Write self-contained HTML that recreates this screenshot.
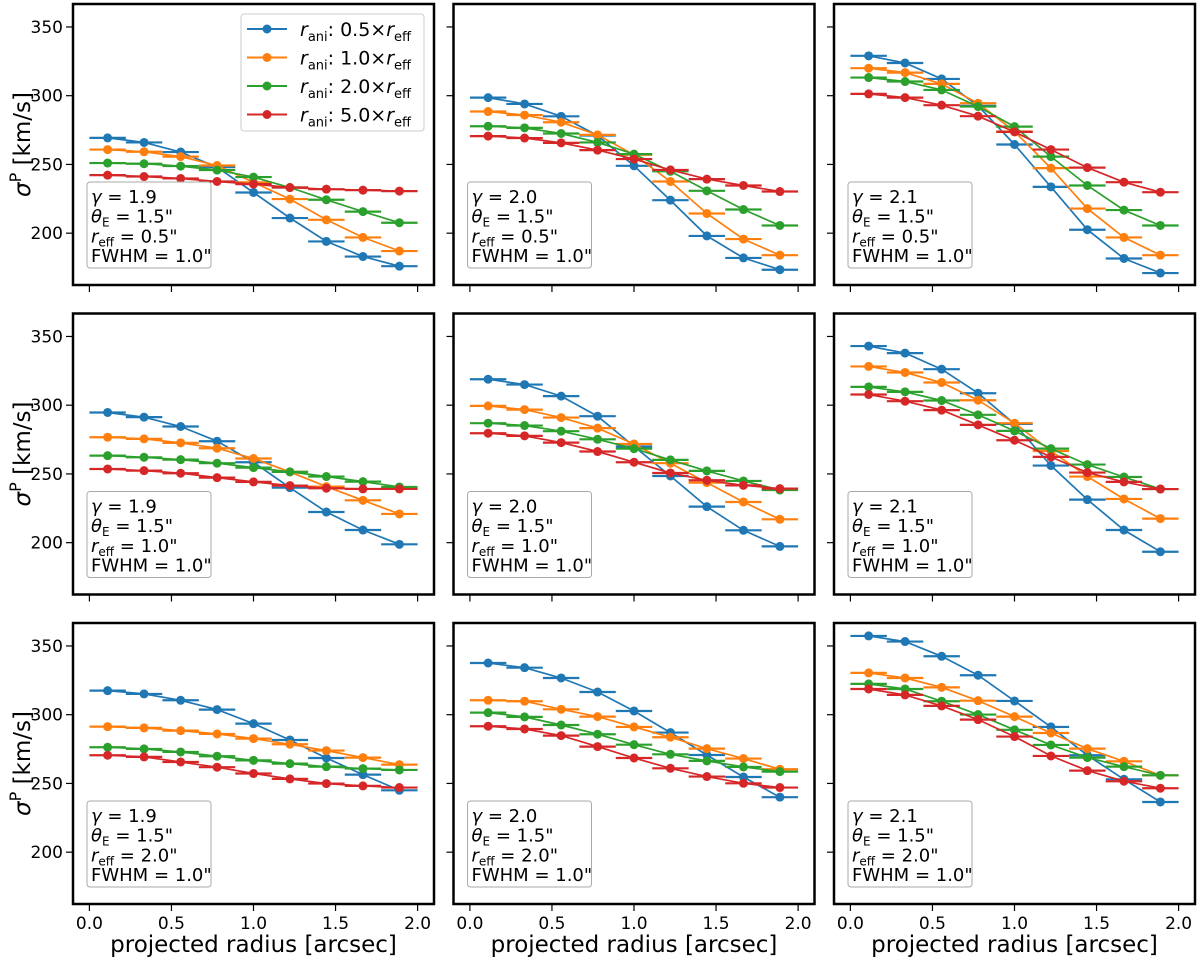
<!DOCTYPE html>
<html><head><meta charset="utf-8">
<style>
html,body{margin:0;padding:0;background:#fff;}
svg{display:block;font-family:"DejaVu Sans","Liberation Sans",sans-serif;}
</style></head>
<body>
<svg id="fig" width="1200" height="965" viewBox="0 0 1200 965" xmlns="http://www.w3.org/2000/svg"></svg>
<script>
const radii = [0.111,0.333,0.556,0.778,1.0,1.222,1.444,1.667,1.889];
const binHalfWidth = 0.111;
const xTicks = [0.0,0.5,1.0,1.5,2.0];
const xTickLabels = ["0.0","0.5","1.0","1.5","2.0"];
const yTicks = [200,250,300,350];
const yTickLabels = ["200","250","300","350"];
const gammaLabels = ["1.9","2.0","2.1"];
const reffLabels = ["0.5","1.0","2.0"];
const seriesNames = ["0.5","1.0","2.0","5.0"];
const seriesColors = ["#1f77b4","#ff7f0e","#2ca02c","#d62728"];
// row 1: r_eff = 0.5
const p11_blue = [269.3,266,259,248,229.6,211,194,183,176];
const p11_orange = [260.8,259.2,255.7,249.2,237,224.8,209.7,196.9,187];
const p11_green = [251,250.5,248.8,245.9,240.8,233.2,224.3,215.7,207.6];
const p11_red = [242.2,241.2,239.8,237.6,235.7,233.2,232,231.3,230.6];
const p12_blue = [298.6,294,285,271,249,224,198,182,173.4];
const p12_orange = [288.5,285.9,280.7,271.5,257,237.6,214.3,195.7,184];
const p12_green = [277.8,276.6,272.5,266,257.5,245,230.8,217.2,205.6];
const p12_red = [270.6,269.2,265.7,260.4,253.9,246,239.3,234.7,230.3];
const p13_blue = [329,323.8,312.2,292.6,264.5,233.7,202.5,181.6,171];
const p13_orange = [320,316.8,308.6,294.5,274,247.3,217.9,196.9,184];
const p13_green = [313.2,310.3,304.2,292.1,277.5,255.7,234.7,216.8,205.6];
const p13_red = [301.3,298.6,293.1,285.1,273.7,260.8,247.7,237.1,229.8];
// row 2: r_eff = 1.0
const p21_blue = [294.7,291.3,284.5,273.8,258.5,240,222.3,209.2,198.8];
const p21_orange = [276.7,275.5,272.6,268.7,261.2,251.5,240.8,230.8,220.9];
const p21_green = [263.3,262.1,260.4,257.8,254.6,251.5,248.1,244.4,240.5];
const p21_red = [253.6,252.4,250.5,247.3,244.2,241.5,239.6,239.1,239.1];
const p22_blue = [318.9,315,306.6,292,270,248.5,226.2,209,197.3];
const p22_orange = [299.5,296.8,291,283.3,271.8,257.8,243.7,229.6,217];
const p22_green = [286.9,285.2,281.1,275.2,268.4,260.2,252.2,244.9,238.3];
const p22_red = [279.6,277.7,272.8,266.3,258.5,250.7,245.4,241.7,239.3];
const p23_blue = [343,337.9,326.2,308.7,286.4,256.1,231.3,209.2,193.4];
const p23_orange = [328.2,323.8,316.5,303.6,286.9,266.7,248.1,231.8,217.5];
const p23_green = [313.3,309.7,303.4,293,281.3,268.4,256.8,247.8,239];
const p23_red = [307.8,302.9,296.4,285.7,274.5,262.4,251,244.2,239];
// row 3: r_eff = 2.0
const p31_blue = [317.5,315.1,310.5,303.7,293.5,281.6,268.5,256.4,245];
const p31_orange = [291.3,290.4,288.4,286,282.6,278.5,273.9,268.8,263.7];
const p31_green = [276.3,275.1,272.9,269.8,266.8,264.4,262.2,260.8,259.8];
const p31_red = [270.5,269.3,265.6,261.8,257.2,253.3,249.9,248.2,247];
const p32_blue = [337.6,334.2,326.7,316.5,302.7,287,270.7,254.7,240];
const p32_orange = [310.5,309.8,303.9,298.6,291.1,283.6,275.3,268.1,260.3];
const p32_green = [301.5,298.4,292.5,285.8,278.2,271.2,266.4,262,258.6];
const p32_red = [291.6,289.6,284.8,276.8,268.5,261,255,250.1,247];
const p33_blue = [357.3,353.2,342.5,328.7,310,291.1,270.5,253,236.5];
const p33_orange = [330.4,326.7,319.9,310.2,298.6,286.7,275.3,266.1,255.9];
const p33_green = [322.4,318.7,309.8,300.1,289,278,268.8,262.2,255.9];
const p33_red = [318.7,314.4,306.4,296.4,284.1,270,259.3,251.6,246.5];

const panels = [
 [[p11_blue,p11_orange,p11_green,p11_red],[p12_blue,p12_orange,p12_green,p12_red],[p13_blue,p13_orange,p13_green,p13_red]],
 [[p21_blue,p21_orange,p21_green,p21_red],[p22_blue,p22_orange,p22_green,p22_red],[p23_blue,p23_orange,p23_green,p23_red]],
 [[p31_blue,p31_orange,p31_green,p31_red],[p32_blue,p32_orange,p32_green,p32_red],[p33_blue,p33_orange,p33_green,p33_red]]
];

const NS = "http://www.w3.org/2000/svg";
const svg = document.getElementById('fig');
const X0 = 73, DX = 380.5, Y0 = 4, DY = 309.5, PW = 361, PH = 281;
const XMIN = -0.1, XMAX = 2.1, YMAX = 366.7, YMIN = 162.3;
function mk(tag, attrs, parent){
  const e = document.createElementNS(NS, tag);
  for (const k in attrs) e.setAttribute(k, attrs[k]);
  (parent||svg).appendChild(e);
  return e;
}
for (let r=0;r<3;r++){
  for (let c=0;c<3;c++){
    const left = X0 + c*DX, top = Y0 + r*DY;
    const sx = v => left + (v - XMIN)/(XMAX - XMIN)*PW;
    const sy = v => top + (YMAX - v)/(YMAX - YMIN)*PH;
    const g = mk('g', {});
    
    
    const clipId = 'clip'+r+c;
    const cp = mk('clipPath', {id:clipId}, g);
    mk('rect', {x:left, y:top, width:PW, height:PH}, cp);
    const data = panels[r][c];
    const sg = mk('g', {'clip-path':'url(#'+clipId+')'}, g);
    for (let s=0;s<4;s++){
      const vals = data[s], col = seriesColors[s];
      const ser = mk('g', {}, sg);
      
      
      let d = '';
      vals.forEach((v,i)=>{ d += (i?'L':'M') + sx(radii[i]).toFixed(1) + ' ' + sy(v).toFixed(1); });
      mk('path', {d:d, fill:'none', stroke:col, 'stroke-width':1.7}, ser);
      vals.forEach((v,i)=>{
        const eb = mk('line', {x1:sx(radii[i]-binHalfWidth), x2:sx(radii[i]+binHalfWidth), y1:sy(v), y2:sy(v), stroke:col, 'stroke-width':2.2}, ser);
        
        
        const pt = mk('circle', {cx:sx(radii[i]), cy:sy(v), r:4.5, fill:col}, ser);
        
        
      });
    }
    mk('rect', {x:left, y:top, width:PW, height:PH, fill:'none', stroke:'#000', 'stroke-width':2.5}, g);
    xTicks.forEach((t,i)=>{
      mk('line', {x1:sx(t), x2:sx(t), y1:top+PH+1, y2:top+PH+7, stroke:'#000', 'stroke-width':1.2}, g);
      if (r===2){
        const tl = mk('text', {x:sx(t), y:top+PH+25, 'font-size':17, 'text-anchor':'middle', fill:'#000'}, g);
        tl.textContent = xTickLabels[i];
        
        
      }
    });
    yTicks.forEach((t,i)=>{
      mk('line', {x1:left-7, x2:left-1, y1:sy(t), y2:sy(t), stroke:'#000', 'stroke-width':1.2}, g);
      if (c===0){
        const tl = mk('text', {x:left-10, y:sy(t)+6, 'font-size':17, 'text-anchor':'end', fill:'#000'}, g);
        tl.textContent = yTickLabels[i];
        
        
      }
    });
    const ab = mk('g', {}, g);
    
    
    mk('rect', {x:left+14, y:top+178, width:124, height:86, rx:3, fill:'#fff', stroke:'#aaa', 'stroke-width':1}, ab);
    const tx = left+18;
    const lines = [
      '<tspan font-style="italic">γ</tspan> = '+gammaLabels[c],
      '<tspan font-style="italic">θ</tspan><tspan font-size="12" dy="4">E</tspan><tspan dy="-4"> = 1.5"</tspan>',
      '<tspan font-style="italic">r</tspan><tspan font-size="12" dy="4">eff</tspan><tspan dy="-4"> = '+reffLabels[r]+'"</tspan>',
      'FWHM = 1.0"'
    ];
    lines.forEach((L,i)=>{
      const t = mk('text', {x:tx, y:top+199+i*19.7, 'font-size':18, fill:'#000'}, ab);
      t.innerHTML = L;
    });
  }
}
const lg = mk('g', {});


mk('rect', {x:241, y:14, width:183, height:117, rx:3, fill:'#fff', stroke:'#ccc', 'stroke-width':1}, lg);
for (let s=0;s<4;s++){
  const y = 29 + s*28.5;
  const e = mk('g', {}, lg);
  
  
  mk('line', {x1:247, x2:287, y1:y, y2:y, stroke:seriesColors[s], 'stroke-width':2}, e);
  mk('circle', {cx:267, cy:y, r:4.5, fill:seriesColors[s]}, e);
  const t = mk('text', {x:300, y:y+7, 'font-size':19, fill:'#000'}, e);
  t.innerHTML = '<tspan font-style="italic">r</tspan><tspan font-size="13" dy="5">ani</tspan><tspan dy="-5">: '+seriesNames[s]+'×</tspan><tspan font-style="italic">r</tspan><tspan font-size="13" dy="5">eff</tspan>';
}
for (let r=0;r<3;r++){
  const cy = Y0 + r*DY + PH/2;
  const t = mk('text', {x:0, y:0, 'font-size':23, 'text-anchor':'middle', fill:'#000', transform:'translate(30,'+cy+') rotate(-90)'});
  t.innerHTML = '<tspan font-style="italic">σ</tspan><tspan font-size="16" dy="-9">P</tspan><tspan dy="9"> [km/s]</tspan>';
  
  
}
for (let c=0;c<3;c++){
  const cx = X0 + c*DX + PW/2;
  const t = mk('text', {x:cx, y:952, 'font-size':23, 'text-anchor':'middle', fill:'#000'});
  t.textContent = 'projected radius [arcsec]';
  
  
}
</script>
</body></html>
